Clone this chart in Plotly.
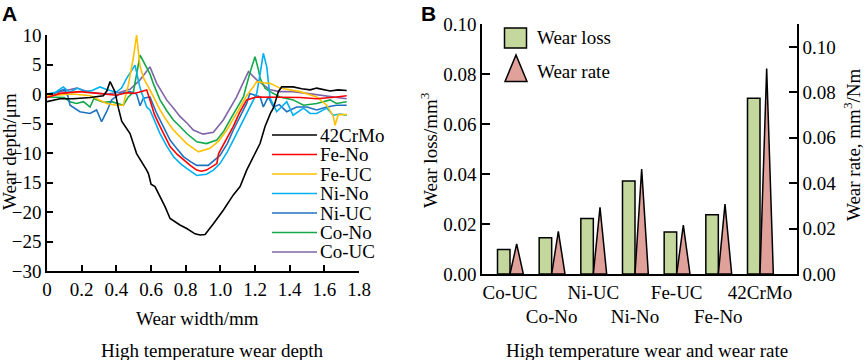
import plotly.graph_objects as go

W, H = 865, 360
SERIF = "Liberation Serif"

# ---------------- Panel A data: wear depth profiles ----------------
series_names = ["42CrMo", "Fe-No", "Fe-UC", "Ni-No", "Ni-UC", "Co-No", "Co-UC"]
series_colors = ["#000000", "#ff0000", "#ffc000", "#00b0f0", "#1f72c0", "#13a84a", "#8064a8"]

x_42CrMo = [0, 0.075, 0.15, 0.25, 0.325, 0.345, 0.364, 0.392, 0.412, 0.431, 0.479, 0.517, 0.575, 0.585,
            0.594, 0.60, 0.623, 0.681, 0.71, 0.735, 0.767, 0.806, 0.854, 0.883, 0.912, 0.96, 1.017, 1.075,
            1.114, 1.152, 1.19, 1.229, 1.258, 1.29, 1.306, 1.335, 1.354, 1.42, 1.47, 1.518, 1.556, 1.6,
            1.633, 1.68, 1.729]
y_42CrMo = [-1.3, -0.8, -0.8, -0.6, -0.3, 0.5, 2.1, 0.4, -2.4, -4.6, -6.7, -10.1, -12.9, -13.5,
            -14.5, -15.3, -15.7, -19.1, -21.1, -21.6, -22.2, -22.8, -23.7, -23.9, -23.8, -22.0, -19.7, -17.1,
            -15.7, -12.9, -10.6, -8.4, -5.5, -3.2, -2.4, 0.4, 1.2, 1.2, 0.9, 0.7, 1.0, 0.7,
            0.5, 0.7, 0.6]

x_FeNo = [0, 0.075, 0.19, 0.306, 0.4, 0.46, 0.498, 0.53, 0.56, 0.575, 0.594, 0.62, 0.652, 0.68, 0.71,
          0.75, 0.787, 0.83, 0.864, 0.89, 0.92, 0.95, 0.98, 0.99, 1.03, 1.075, 1.11, 1.152, 1.21, 1.287,
          1.38, 1.46, 1.556, 1.62, 1.67, 1.729]
y_FeNo = [-0.6, 0.1, 0.4, 0.0, -0.2, 0.2, 0.1, 0.3, 0.6, 0.7, -1.0, -3.5, -5.5, -7.2, -8.9,
          -10.2, -11.2, -12.2, -12.9, -13.1, -12.9, -12.4, -11.8, -10.1, -8.0, -5.5, -3.2, -1.0, -0.5, -0.5,
          -0.6, -0.6, -0.8, -0.7, -0.5, -0.3]

x_FeUC = [0, 0.075, 0.15, 0.25, 0.3, 0.344, 0.4, 0.44, 0.469, 0.498, 0.517, 0.537, 0.56, 0.594, 0.652,
          0.69, 0.729, 0.77, 0.806, 0.873, 0.94, 0.99, 1.037, 1.075, 1.114, 1.152, 1.19, 1.21, 1.25,
          1.287, 1.344, 1.4, 1.46, 1.556, 1.614, 1.652, 1.662, 1.68, 1.73]
y_FeUC = [-0.3, -0.2, 0.0, -0.3, -1.0, -1.6, -1.9, -1.9, 1.5, 6.1, 10.0, 4.6, 2.5, 0.7, -2.7,
          -4.5, -6.1, -7.4, -8.4, -9.8, -9.2, -8.0, -6.1, -4.2, -2.2, -0.3, 1.2, 2.1, 1.9,
          1.8, 1.0, 0.7, 0.4, -0.5, -1.9, -3.8, -5.3, -3.5, -3.5]

x_NiNo = [0, 0.05, 0.094, 0.13, 0.177, 0.22, 0.26, 0.306, 0.34, 0.4, 0.43, 0.46, 0.508, 0.537, 0.575,
          0.594, 0.652, 0.69, 0.729, 0.77, 0.806, 0.864, 0.92, 0.96, 0.998, 1.04, 1.075, 1.152, 1.21,
          1.23, 1.248, 1.268, 1.287, 1.325, 1.383, 1.42, 1.48, 1.518, 1.556, 1.614, 1.652, 1.69, 1.73]
y_NiNo = [0.0, 0.3, 1.2, 0.3, 1.0, 0.4, 0.6, 1.2, 0.8, 0.3, 1.0, 2.7, 4.9, 1.0, -2.2,
          -2.7, -6.7, -8.8, -10.6, -11.8, -12.6, -13.8, -13.6, -12.9, -11.8, -9.8, -7.8, -3.3, 0.1,
          3.5, 6.9, 4.6, -0.7, -3.0, -1.3, -3.6, -2.4, -3.3, -3.3, -2.4, -3.6, -3.4, -3.6]

x_NiUC = [0, 0.06, 0.1, 0.12, 0.133, 0.19, 0.248, 0.286, 0.315, 0.344, 0.373, 0.421, 0.479, 0.517,
          0.537, 0.556, 0.594, 0.633, 0.67, 0.71, 0.75, 0.787, 0.83, 0.864, 0.93, 0.998, 1.04, 1.075,
          1.152, 1.17, 1.2, 1.23, 1.248, 1.277, 1.306, 1.34, 1.383, 1.44, 1.5, 1.556, 1.614, 1.67, 1.729]
y_NiUC = [-0.3, 0.3, 0.8, -0.3, -1.9, -3.0, -3.3, -2.7, -4.7, -3.0, -1.0, 0.1, 0.4, 0.0,
          -2.0, -0.7, -0.5, -3.3, -5.6, -7.8, -9.3, -10.6, -11.5, -12.1, -12.1, -10.4, -8.4, -6.1,
          -1.6, 0.1, -0.2, -0.5, -2.2, -0.5, -2.2, -1.8, -3.0, -2.2, -2.2, -2.7, -2.2, -1.9, -1.9]

x_CoNo = [0, 0.06, 0.1, 0.133, 0.17, 0.21, 0.248, 0.27, 0.325, 0.373, 0.44, 0.469, 0.498, 0.537,
          0.556, 0.575, 0.594, 0.613, 0.652, 0.69, 0.729, 0.77, 0.806, 0.864, 0.92, 0.98, 1.02, 1.056,
          1.094, 1.133, 1.17, 1.2, 1.22, 1.229, 1.258, 1.287, 1.344, 1.42, 1.48, 1.556, 1.633, 1.67, 1.729]
y_CoNo = [-0.5, -0.5, -0.6, -1.3, -1.6, -1.3, -2.2, -0.8, -1.4, -1.3, -1.9, -0.5, 0.3, 6.6,
          5.5, 4.6, 3.4, 1.8, -1.0, -2.8, -4.4, -5.6, -6.7, -8.1, -8.4, -7.8, -6.3, -4.4,
          -2.5, -0.5, 3.5, 6.3, 4.1, 2.7, 1.0, 0.4, -0.5, -1.0, -1.9, -1.6, -1.0, -1.6, -1.3]

x_CoUC = [0, 0.06, 0.11, 0.17, 0.248, 0.344, 0.42, 0.479, 0.537, 0.575, 0.594, 0.633, 0.69, 0.73,
          0.767, 0.81, 0.844, 0.9, 0.96, 1.017, 1.056, 1.094, 1.13, 1.162, 1.21, 1.287, 1.344, 1.42,
          1.5, 1.58, 1.652, 1.729]
y_CoUC = [-0.3, 0.3, 0.6, 1.0, 0.3, 0.0, 0.3, 0.8, 2.4, 3.8, 4.6, 1.8, -1.0, -2.4,
          -3.8, -5.0, -6.1, -6.8, -6.5, -4.4, -2.5, -0.5, 1.8, 3.8, 2.4, 0.7, 0.4, 0.4,
          0.1, -0.2, -0.5, -0.8]

series_x = [x_42CrMo, x_FeNo, x_FeUC, x_NiNo, x_NiUC, x_CoNo, x_CoUC]
series_y = [y_42CrMo, y_FeNo, y_FeUC, y_NiNo, y_NiUC, y_CoNo, y_CoUC]

a_xticks = [0, 0.2, 0.4, 0.6, 0.8, 1.0, 1.2, 1.4, 1.6, 1.8]
a_xticktext = ["0", "0.2", "0.4", "0.6", "0.8", "1.0", "1.2", "1.4", "1.6", "1.8"]
a_yticks = [-30, -25, -20, -15, -10, -5, 0, 5, 10]

# ---------------- Panel B data: wear loss and wear rate ----------------
b_categories = ["Co-UC", "Co-No", "Ni-UC", "Ni-No", "Fe-UC", "Fe-No", "42CrMo"]
wear_loss = [0.0098, 0.0145, 0.0222, 0.0372, 0.0168, 0.0237, 0.0703]
wear_rate = [0.0132, 0.0188, 0.0294, 0.0462, 0.0215, 0.0308, 0.0905]
b_yticks = [0.00, 0.02, 0.04, 0.06, 0.08, 0.10]

# ---------------- figure ----------------
def px_x(p):
    return p / W

def px_y(p):
    return 1 - p / H

fig = go.Figure()

for name, col, xs, ys in reversed(list(zip(series_names, series_colors, series_x, series_y))):
    fig.add_trace(go.Scatter(x=xs, y=ys, mode="lines", name=name,
                             line=dict(color=col, width=1.6), showlegend=False,
                             xaxis="x", yaxis="y"))

idx = list(range(len(b_categories)))
bar_w = 0.30
tri_w = 0.32
fig.add_trace(go.Bar(x=[i - bar_w / 2 for i in idx], y=wear_loss, width=bar_w,
                     marker=dict(color="#c4d89d", line=dict(color="black", width=1.5)),
                     showlegend=False, xaxis="x2", yaxis="y2", name="Wear loss"))

tx, ty = [], []
for i, v in zip(idx, wear_rate):
    tx += [i, i + tri_w / 2, i + tri_w, i, None]
    ty += [0, v, 0, 0, None]
fig.add_trace(go.Scatter(x=tx, y=ty, mode="lines", fill="toself", fillcolor="#e0a19b",
                         line=dict(color="black", width=1.5), showlegend=False,
                         xaxis="x2", yaxis="y3", name="Wear rate"))

tickfont = dict(family=SERIF, size=19, color="black")
axis_common = dict(showline=True, linecolor="black", linewidth=1.5, showgrid=False, zeroline=False,
                   tickfont=tickfont, tickcolor="black", tickwidth=1.5, automargin=False)

fig.update_layout(
    width=W, height=H,
    margin=dict(l=0, r=0, t=0, b=0),
    paper_bgcolor="white", plot_bgcolor="white",
    font=dict(family=SERIF, size=19, color="black"),
    showlegend=False,
    barmode="overlay",
    xaxis=dict(domain=[px_x(47), px_x(359)], range=[0, 1.8], anchor="y",
               tickmode="array", tickvals=a_xticks, ticktext=a_xticktext, tickangle=0,
               ticks="inside", ticklen=6, **axis_common),
    yaxis=dict(domain=[px_y(271), px_y(35)], range=[-30, 10], anchor="x",
               tickmode="array", tickvals=a_yticks,
               ticks="inside", ticklen=6, **axis_common),
    xaxis2=dict(domain=[px_x(482), px_x(797)], range=[-0.672, 6.888], anchor="y2",
                tickmode="array", tickvals=idx, tickangle=0,
                ticktext=[c if k % 2 == 0 else "<br>" + c for k, c in enumerate(b_categories)],
                ticks="", **axis_common),
    yaxis2=dict(domain=[px_y(274), px_y(24)], range=[0, 0.1], anchor="x2",
                tickmode="array", tickvals=b_yticks, tickformat=".2f",
                ticks="inside", ticklen=8, **axis_common),
    yaxis3=dict(domain=[px_y(274), px_y(24)], range=[0, 0.1101], anchor="x2",
                overlaying="y2", side="right",
                tickmode="array", tickvals=b_yticks, tickformat=".2f",
                ticks="inside", ticklen=8, **axis_common),
)

ann = []
shapes = []
tfont = dict(family=SERIF, size=19, color="black")

def text_at(text, x, y, xanchor="center", yanchor="middle", angle=0, font=tfont):
    ann.append(dict(text=text, x=px_x(x), y=px_y(y), xref="paper", yref="paper",
                    xanchor=xanchor, yanchor=yanchor, textangle=angle, showarrow=False, font=font))

letter_font = dict(family="Liberation Sans", size=21, color="black")
text_at("<b>A</b>", 0, 0, xanchor="left", yanchor="top", font=letter_font)
text_at("<b>B</b>", 419, 0, xanchor="left", yanchor="top", font=letter_font)

text_at("Wear depth/μm", 9, 152, angle=-90)
text_at("Wear width/mm", 197, 318)
text_at("High temperature wear depth", 212, 350)
text_at("Wear loss/mm<sup>3</sup>", 429, 150, angle=-90)
text_at("Wear rate, mm<sup>3</sup>/Nm", 852, 145, angle=-90)
text_at("High temperature wear and wear rate", 647, 350)

leg_y0, leg_dy = 135, 19.5
for k, (name, col) in enumerate(zip(series_names, series_colors)):
    yy = leg_y0 + k * leg_dy
    shapes.append(dict(type="line", xref="paper", yref="paper",
                       x0=px_x(272), x1=px_x(317), y0=px_y(yy), y1=px_y(yy),
                       line=dict(color=col, width=1.6)))
    text_at(name, 318, yy, xanchor="left")

shapes.append(dict(type="rect", xref="paper", yref="paper",
                   x0=px_x(504.5), x1=px_x(526.5), y0=px_y(48), y1=px_y(28),
                   fillcolor="#c4d89d", line=dict(color="black", width=1.5)))
shapes.append(dict(type="path", xref="paper", yref="paper",
                   path=f"M {px_x(505)},{px_y(81.5)} L {px_x(516)},{px_y(55)} L {px_x(527)},{px_y(81.5)} Z",
                   fillcolor="#e0a19b", line=dict(color="black", width=1.5)))
text_at("Wear loss", 535, 38, xanchor="left")
text_at("Wear rate", 535, 72, xanchor="left")

fig.update_layout(annotations=ann, shapes=shapes)
fig.write_html("out.html", config={"displayModeBar": False},
               post_script="document.body.style.margin='0';document.body.style.padding='0';")
